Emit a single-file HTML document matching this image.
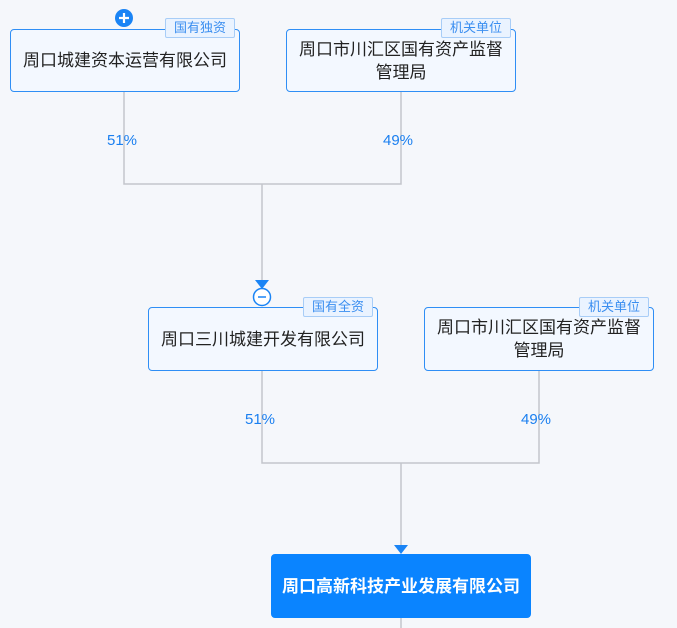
<!DOCTYPE html>
<html><head><meta charset="utf-8"><style>
body{margin:0;width:677px;height:628px;background:#f5f7fb;position:relative;overflow:hidden;font-family:"Liberation Sans","Noto Sans CJK SC",sans-serif}
.b{position:absolute;box-sizing:border-box;border:1.5px solid #2f8ef5;border-radius:4px;background:#f3f8ff;display:flex;align-items:center;justify-content:center;text-align:center;font-size:17px;color:#222;line-height:23px}
.t{position:absolute;box-sizing:border-box;height:20px;border:1.5px solid #a8cdf7;background:#eaf3ff;color:#3a8ef0;font-size:13px;line-height:17px;text-align:center;border-radius:2px}
.p{position:absolute;color:#1a7ff0;font-size:15px;width:60px;text-align:center;margin-left:-30px}
</style></head><body>
<svg width="677" height="628" style="position:absolute;left:0;top:0">
<g stroke="#c3c6cc" stroke-width="1.5" fill="none">
<path d="M124 92V184H401V92M262 184V282"/>
<path d="M262 371V463H539V371M401 463V547M401 618V628"/>
</g>
<path d="M255 280h14l-7 9z" fill="#1a84f5"/>
<path d="M394 545h14l-7 9z" fill="#1a84f5"/>
<circle cx="124" cy="18" r="9" fill="#1a84f5"/>
<path d="M119 18h10M124 13v10" stroke="#fff" stroke-width="2.2"/>
<circle cx="262" cy="297" r="8.5" fill="#fff" stroke="#1a84f5" stroke-width="1.5"/>
<path d="M258 297h8" stroke="#1a84f5" stroke-width="1.5"/>
</svg>
<div class="b" style="left:10px;top:29px;width:230px;height:63px">周口城建资本运营有限公司</div>
<div class="t" style="left:165px;top:18px;width:70px">国有独资</div>
<div class="b" style="left:286px;top:29px;width:230px;height:63px">周口市川汇区国有资产监督<br>管理局</div>
<div class="t" style="left:441px;top:18px;width:70px">机关单位</div>
<div class="p" style="left:122px;top:132px">51%</div>
<div class="p" style="left:398px;top:132px">49%</div>
<div class="b" style="left:148px;top:307px;width:230px;height:64px">周口三川城建开发有限公司</div>
<div class="t" style="left:303px;top:297px;width:70px">国有全资</div>
<div class="b" style="left:424px;top:307px;width:230px;height:64px">周口市川汇区国有资产监督<br>管理局</div>
<div class="t" style="left:579px;top:297px;width:70px">机关单位</div>
<div class="p" style="left:260px;top:411px">51%</div>
<div class="p" style="left:536px;top:411px">49%</div>
<div class="b" style="left:271px;top:554px;width:260px;height:64px;background:#0a84ff;border-color:#0a84ff;color:#fff;font-weight:bold">周口高新科技产业发展有限公司</div>
</body></html>
